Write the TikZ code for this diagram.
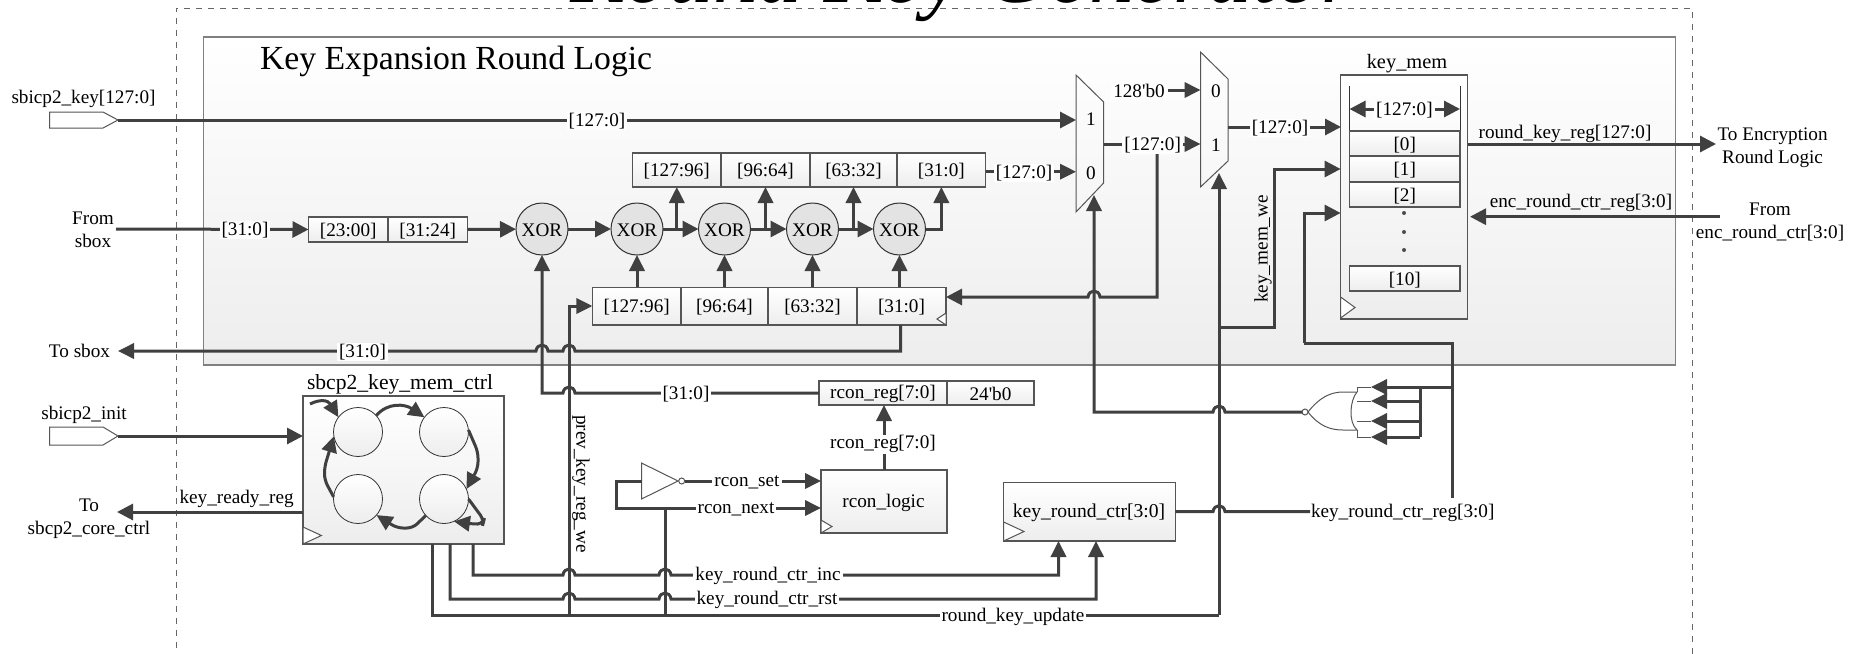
\documentclass[tikz,border=0pt]{standalone}
\usepackage{fontspec}
\setmainfont{Liberation Serif}
\usetikzlibrary{arrows.meta}
\definecolor{wc}{HTML}{404040}
\definecolor{ec}{HTML}{555555}
\newcommand\lab{\fontsize{9.6}{11.5}\selectfont}
\newcommand\bx[6][cell]{\node[#1,minimum width={(#5-#3)*0.5pt},minimum height={(#6-#4)*0.5pt}] (#2) at ({(#3+#5)/2},{(#4+#6)/2}) {};}
\newcommand\jmpR[2]{-- (#1-6,#2) .. controls (#1-5,#2-8) and (#1+5,#2-8) .. (#1+6,#2)}
\newcommand\jmpL[2]{-- (#1+6,#2) .. controls (#1+5,#2-8) and (#1-5,#2-8) .. (#1-6,#2)}
\tikzset{
  x=0.5pt,y=-0.5pt,
  every node/.style={font=\lab,inner sep=0pt,outer sep=0pt,text=black},
  cell/.style={draw=ec,line width=0.6pt,top color=white,bottom color=black!7},
  wirel/.style={draw=wc,line width=1.5pt},
  wa/.style={wirel,-{Triangle[length=8pt,width=8pt]}},
  wb/.style={wirel,-{Triangle[length=8pt,width=7.6pt]}},
  wlab/.style={fill=white,inner xsep=1pt,inner ysep=0.5pt},
  thinl/.style={draw=ec,line width=0.5pt},
  xorn/.style={circle,draw=black!80,line width=0.5pt,fill=black!11,minimum size=26pt},
  st/.style={circle,draw=black!80,line width=0.4pt,top color=white,bottom color=black!7,minimum size=24.5pt},
  bub/.style={circle,draw=ec,line width=0.5pt,fill=white,minimum size=3pt},
}
\begin{document}
\begin{tikzpicture}
\useasboundingbox (0,0) rectangle (1862,653);
\clip (0,0) rectangle (1862,653);
% frame + title
\bx[draw=black!50,line width=0.7pt,top color=white,bottom color=black!7]{panel}{203.6}{37}{1675.5}{365}
\draw[dashed,draw=black!60,line width=0.5pt] (176,660) -- (176,8) -- (1692,8) -- (1692,660);
\node[anchor=base,font=\fontsize{44.5}{44.5}\selectfont\itshape] (maint) at (963,3) {Round Key Generator};
\node[anchor=base west,font=\fontsize{16.85}{18}\selectfont] (sub) at (260,69) {Key Expansion Round Logic};

% ports
\draw[thinl,fill=white] (49.5,112) -- (103,112) -- (118,120) -- (103,128) -- (49.5,128) -- cycle;
\draw[thinl,fill=white] (49.5,427) -- (103,427) -- (118,436) -- (103,445) -- (49.5,445) -- cycle;
\coordinate (pkey) at (118,120);
\coordinate (pinit) at (118,436);
\coordinate (fsb) at (116,229);
\coordinate (tsb) at (118,351);

% registers
\bx{r1}{308.5}{217}{388}{242}\bx{r2}{388}{217}{467.5}{242}
\bx{t1}{632.6}{153}{721}{187}\bx{t2}{721}{153}{810}{187}\bx{t3}{810}{153}{897}{187}\bx{t4}{897}{153}{985.7}{187}
\bx{b1}{592.4}{287.3}{681}{325}\bx{b2}{681}{287.3}{768}{325}\bx{b3}{768}{287.3}{857}{325}\bx{b4}{857}{287.3}{946}{325}
\draw[thinl,fill=white] (946,313) -- (937,319) -- (946,325) -- cycle;
\node[xorn] (x1) at (542,229) {};
\node[xorn] (x2) at (637,229) {};
\node[xorn] (x3) at (724.5,229) {};
\node[xorn] (x4) at (812.5,229) {};
\node[xorn] (x5) at (899.5,229) {};

% muxes
\draw[thinl] (1076,75) -- (1103.6,102) -- (1103.6,183) -- (1076,212) -- cycle;
\draw[thinl] (1200.5,52) -- (1228,79) -- (1228,161) -- (1200.5,187) -- cycle;
\coordinate (m1a) at (1076,120);
\coordinate (m1b) at (1076,171.7);
\coordinate (m1s) at (1094,195);
\coordinate (m1o) at (1103.6,144);
\coordinate (m2a) at (1200.5,90);
\coordinate (m2b) at (1200.5,144);
\coordinate (m2s) at (1219,173);
\coordinate (m2o) at (1228,127);

% key memory
\bx{kmem}{1340.6}{75}{1467.7}{319}
\draw[thinl,draw=black!80] (1349.5,86) -- (1349.5,130) (1460,86) -- (1460,130);
\bx{km0}{1349.5}{131}{1460}{156}\bx{km1}{1349.5}{156}{1460}{182}\bx{km2}{1349.5}{182}{1460}{207}\bx{km10}{1349.5}{266}{1460}{291}
\draw[thinl,fill=white] (1340.6,297) -- (1355,307.5) -- (1340.6,318) -- cycle;
\fill[black!70] (1404,213) circle[radius=1pt] (1404,232) circle[radius=1pt] (1404,250) circle[radius=1pt];
\coordinate (kdl) at (1349.5,109);
\coordinate (kdr) at (1460,109);

% control FSM
\bx{ctrl}{303}{396}{504}{544}
\draw[thinl,fill=white] (303,527) -- (321.4,535.5) -- (303,544) -- cycle;
\node[st] (c1) at (358,432) {};
\node[st] (c2) at (444,432) {};
\node[st] (c3) at (358,499) {};
\node[st] (c4) at (444,499) {};
\coordinate (c0) at (310,404);

% rcon
\bx{rc1}{819}{381}{947}{405}\bx{rc2}{947}{381}{1034}{405}
\bx{rlog}{821}{470}{947}{533}
\draw[thinl,fill=white] (821,520) -- (832,526.5) -- (821,533) -- cycle;
\bx{krc}{1003.6}{482.7}{1175.4}{541}
\draw[thinl,fill=white] (1003.6,522) -- (1024,531.5) -- (1003.6,541) -- cycle;
\draw[thinl] (641.5,463) -- (678,481) -- (641.5,499) -- cycle;
\node[bub] (inb) at (681.7,481) {};
\coordinate (inin) at (641.5,481);

% NOR
\draw[thinl] (1308,412) .. controls (1319,398) and (1330,392) .. (1343,392) -- (1357,392)
  .. controls (1350,400) and (1348,422) .. (1357,430) -- (1343,430) .. controls (1330,430) and (1319,426) .. (1308,412);
\draw[thinl] (1357,387) -- (1357,392) (1357,430) -- (1357,437);
\node[bub] (norb) at (1305,412) {};
\coordinate (n1) at (1371,387);
\coordinate (n2) at (1371,401);
\coordinate (n3) at (1371,421);
\coordinate (n4) at (1371,437);
\draw[thinl] (1357,387) -- (n1) (1357,401) -- (n2) (1357,421) -- (n3) (1357,437) -- (n4);

% ---- wires
\coordinate (jm1) at (1157,144);
\coordinate (jkey) at (1219,327);
\coordinate (rbus) at (1452,387);
\coordinate (kctr) at (1310,511.7);
\coordinate (ktop) at (1452,498);
\draw[wa] (pkey) -- (m1a);
\draw[wa] (fsb) -- (r1.west);
\draw[wa] (r2.east) -- (x1);
\draw[wa] (x1) -- (x2);\draw[wa] (x2) -- (x3);\draw[wa] (x3) -- (x4);\draw[wa] (x4) -- (x5);
\draw[wb] (t1.south |- x2) -- (t1.south);
\draw[wb] (t2.south |- x3) -- (t2.south);
\draw[wb] (t3.south |- x4) -- (t3.south);
\draw[wb] (x5.east) -| (t4.south);
\draw[wb] (b1.north -| x2) -- (x2.south);
\draw[wb] (b2.north -| x3) -- (x3.south);
\draw[wb] (b3.north -| x4) -- (x4.south);
\draw[wb] (b4.north -| x5) -- (x5.south);
\draw[wb] (t4.east |- m1b) -- (m1b);
\draw[wb] (m1o) -- (m2b);
\draw[wb] (1168,90) -- (m2a);
\draw[wa] (m2o) -- (1341,127);
\draw[wa] (jm1) -- (1157,297) \jmpL{1094}{297} -- (b4.east |- 0,297);
\draw[wb] (900.5,325) -- (900.5,351) \jmpL{569}{351} \jmpL{542}{351} -- (tsb);
\draw[wb] (rc1.west |- 0,393) \jmpL{569}{393} -- (542,393) -- (x1.south);
\draw[wb] (569,615) -- (569,306) -- (b1.west |- 0,306);
\draw[wirel] (ctrl.south -| 432,0) -- (432,615) -- (1219,615);
\draw[wb] (1219,615) -- (m2s);
\draw[wb] (ctrl.south -| 473,0) -- (473,575) \jmpR{569}{575} \jmpR{665}{575} -- (1058.5,575) -- (krc.south -| 1058.5,0);
\draw[wb] (ctrl.south -| 450,0) -- (450,599) \jmpR{569}{599} \jmpR{665}{599} -- (1096,599) -- (krc.south -| 1096,0);
\draw[wirel] (665,615) -- (665,508);
\draw[wb] (685,481) -- (rlog.west |- 0,481);
\draw[wb] (inin) -- (616,481) -- (616,508) -- (rlog.west |- 0,508);
\draw[wb] (rlog.north) -- (rc1.south -| rlog.north);
\draw[wa] (pinit) -- (ctrl.west |- pinit);
\draw[wa] (ctrl.west |- 0,512) -- (117,512);
\draw[wirel] (krc.east |- kctr) \jmpR{1219}{511.7} -- (kctr);
\draw[wirel] (ktop) -- (1452,343) -- (1304,343);
\draw[wa] (1304,343) -- (1304,213) -- (kmem.west |- 0,213);
\draw[wa] (jkey) -- (1274,327) -- (1274,169) -- (kmem.west |- 0,169);
\draw[wb] (norb.west) \jmpL{1219}{412} -- (1094,412) -- (m1s);
\draw[wirel] (rbus) -- (1420,387);
\draw[wirel] (1420,387) -- (1420,437);
\draw[wb] (1420,387) -- (n1);
\draw[wb] (1420,401) -- (n2);
\draw[wb] (1420,421) -- (n3);
\draw[wb] (1420,437) -- (n4);
\draw[wa] (kmem.east |- 0,144) -- (1716,144);
\draw[wa] (1720,216.7) -- (1470,216.7);
\draw[wa,{Triangle[length=8pt,width=8pt]}-{Triangle[length=8pt,width=8pt]}] (kdl) -- (kdr);
% FSM arcs
\begin{scope}[rounded corners=3pt]
\draw[wb] (c0) .. controls (320,399) and (328,400) .. (c1.143);
\draw[wb] (c1.42) .. controls (388,402) and (405,404) .. (c2.143);
\draw[wb] (c2.5) -- (478,452) -- (478,468) -- (c4.24);
\draw[wb] (c4.0) -- (484,520) -- (483,524) -- (472,524) -- (c4.-66);
\draw[wb] (c4.-138) -- (413,528) -- (397,528) -- (c3.-41);
\draw[wb] (c3.175) -- (324.5,480) -- (324.5,467) -- (c1.190);
\end{scope}

\begin{scope}[every node/.append style={yshift=-0.7pt}]
% ---- texts in boxes
\node (tr1) at (r1) {[23:00]};\node (tr2) at (r2) {[31:24]};
\foreach \n in {1,...,5}{\node at (x\n) {XOR};}
\node at (t1) {[127:96]};\node at (t2) {[96:64]};\node at (t3) {[63:32]};\node at (t4) {[31:0]};
\node at (b1) {[127:96]};\node at (b2) {[96:64]};\node at (b3) {[63:32]};\node at (b4) {[31:0]};
\node at (1091,118) {1};\node at (1091,172) {0};
\node at (1216,90) {0};\node at (1216,144) {1};
\node at (km0) {[0]};\node at (km1) {[1]};\node at (km2) {[2]};\node at (km10) {[10]};
\node at (rc1) {rcon\_reg[7:0]};\node at (rc2) {24\textquotesingle b0};
\node at (883.5,502) {rcon\_logic};
\node[font=\fontsize{9.8}{11.5}\selectfont] at (1089,511) {key\_round\_ctr[3:0]};

% ---- wire labels
\node[wlab] at (597,120) {[127:0]};
\node[wlab] at (245,229) {[31:0]};
\node[wlab] at (362.5,351) {[31:0]};
\node[wlab] at (686,393) {[31:0]};
\node[wlab] at (1024,171.7) {[127:0]};
\node[wlab] at (1152.7,144) {[127:0]};
\node[wlab] at (1280,127) {[127:0]};
\node[wlab] at (1404.4,109) {[127:0]};
\node[fill=white,inner xsep=1pt] at (1139,90) {128\textquotesingle b0};
\node[wlab] at (883,443) {rcon\_reg[7:0]};
\node[wlab] at (747,481) {rcon\_set};
\node[wlab] at (736,508) {rcon\_next};
\node[wlab] at (768,575) {key\_round\_ctr\_inc};
\node[wlab] at (767,599) {key\_round\_ctr\_rst};
\node[wlab] at (1013,616) {round\_key\_update};
\node[anchor=west] at (1311,511.7) {key\_round\_ctr\_reg[3:0]};
\node[rotate=-90] at (581,482.5) {prev\_key\_reg\_we};
\node[rotate=90] at (1263,247.5) {key\_mem\_we};

% ---- free labels
\node at (83.5,98) {sbicp2\_key[127:0]};
\node[align=center] at (93,228) {From\\sbox};
\node at (79.5,350) {To sbox};
\node at (84,413) {sbicp2\_init};
\node[align=center] at (89,517) {To\\sbcp2\_core\_ctrl};
\node at (236.6,498) {key\_ready\_reg};
\node[font=\fontsize{10.8}{12}\selectfont] at (400,383) {sbcp2\_key\_mem\_ctrl};
\node[font=\fontsize{10.2}{12}\selectfont] at (1407,62) {key\_mem};
\node at (1565,133) {round\_key\_reg[127:0]};
\node at (1581,202) {enc\_round\_ctr\_reg[3:0]};
\node[align=center] at (1772.6,146.5) {To Encryption\\Round Logic};
\node[align=center] at (1770,220.5) {From\\enc\_round\_ctr[3:0]};
\end{scope}
\end{tikzpicture}
\end{document}
